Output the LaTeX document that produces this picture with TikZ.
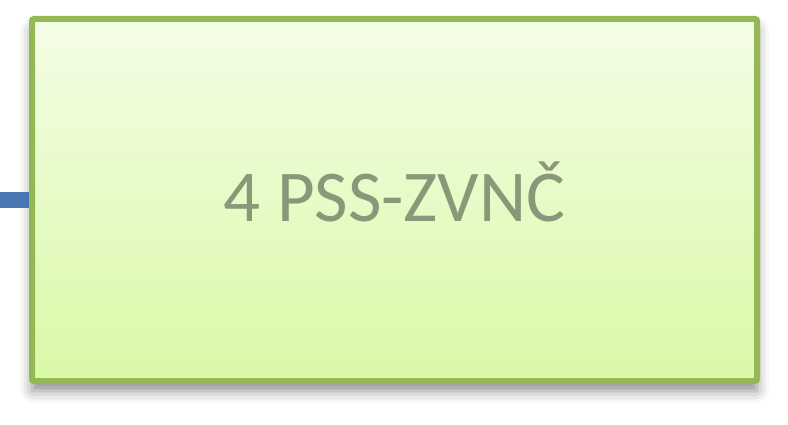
\documentclass[tikz,border=0pt]{standalone}
\usepackage{fontspec}
\setmainfont{Carlito}
\usepackage{tikz}
\usetikzlibrary{positioning,shadows,shadows.blur}
\usepackage{xcolor}
\definecolor{pssborder}{RGB}{148,184,84}
\definecolor{psstop}{RGB}{244,253,230}
\definecolor{pssbottom}{RGB}{216,249,166}
\definecolor{psstext}{RGB}{136,152,120}
\definecolor{linkblue}{RGB}{74,118,182}
\tikzstyle{pssbox} = [draw=pssborder, line width=6pt, rounded corners=2pt,
    top color=psstop, bottom color=pssbottom,
    minimum width=725pt, minimum height=362pt, text=psstext,
    text height=44pt, text depth=0pt,
    font=\fontsize{73}{80}\selectfont,
    blur shadow={shadow xshift=0pt, shadow yshift=-10pt, shadow blur radius=12pt, shadow opacity=45}]
\tikzstyle{link} = [line width=16pt, color=linkblue]

\begin{document}
\begin{tikzpicture}[x=1pt,y=-1pt]
\useasboundingbox (0,0) rectangle (788,425);

% Box
\node[pssbox] (pss) at (394.5,200) {4 PSS-ZVNČ};

% Incoming line
\coordinate (lnstart) at (0,200);
\draw[link] (lnstart) -- (pss.west);
\end{tikzpicture}
\end{document}
